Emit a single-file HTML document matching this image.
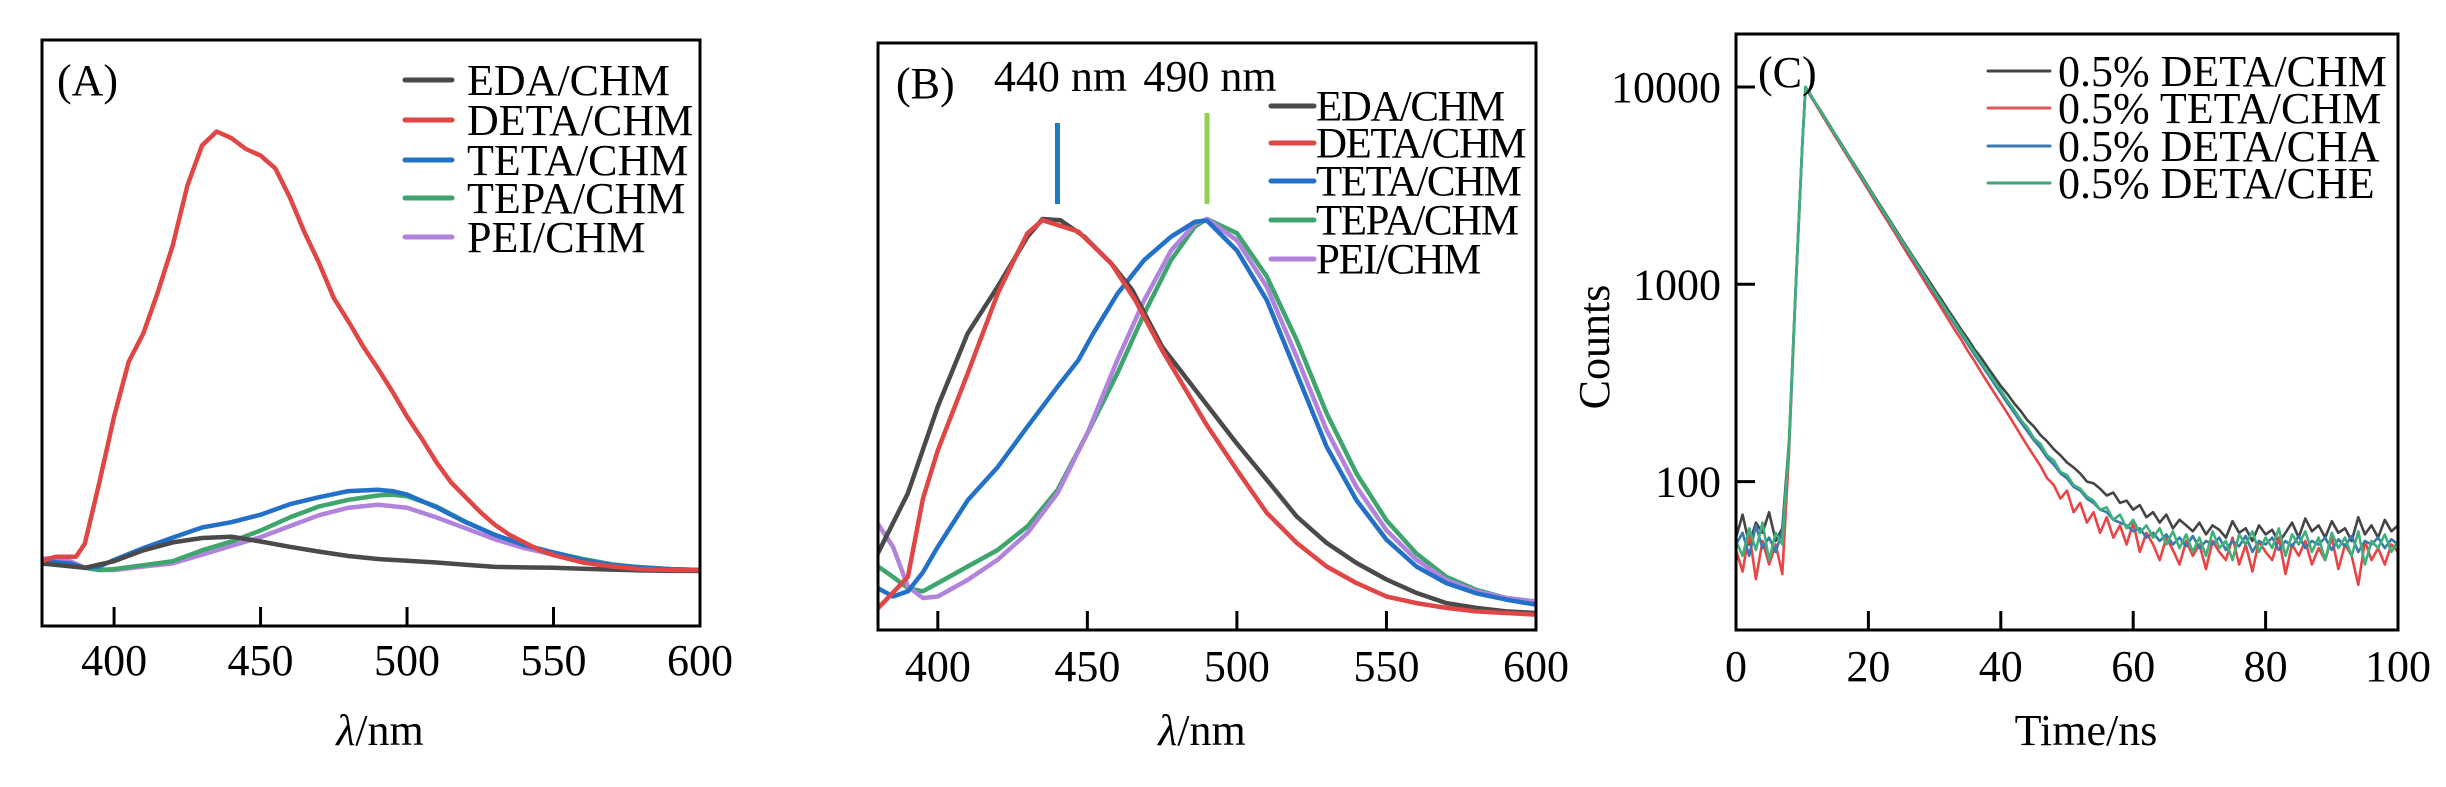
<!DOCTYPE html>
<html><head><meta charset="utf-8"><style>
html,body{margin:0;padding:0;background:#fff;}
svg{display:block;font-family:"Liberation Serif","Times New Roman",serif;}
</style></head><body>
<svg id="fig" width="2446" height="787" viewBox="0 0 2446 787" xmlns="http://www.w3.org/2000/svg"></svg>
<script>
// ---------- Panel A data ----------
const aEdaX=[375,390,400,410,420,430,440,450,460,470,480,490,500,510,520,530,540,550,560,570,580,590,600];
const aEdaY=[1.5,0.5,2,4.5,6.3,7.3,7.6,6.5,5.3,4.2,3.2,2.5,2.1,1.7,1.2,0.7,0.6,0.5,0.3,0.1,-0.1,-0.2,-0.2];
const aDetaX=[375,380,387,390,395,400,405,410,415,420,425,430,435,440,445,450,455,460,465,470,475,480,485,490,495,500,505,510,515,520,525,530,535,540,545,550,560,570,580,590,600];
const aDetaY=[2,3,3,6,20,35,47.5,54,63.5,74,87.6,96.8,100,98.5,96,94.5,91.6,85,77,70,62,56.7,51,46,40.7,35,30,24.6,20,16.6,13.2,10.3,8,6.3,4.6,3.4,1.7,0.8,0.2,0,0];
const aTetaX=[375,385,390,395,400,410,420,430,440,450,460,470,480,490,495,500,510,520,530,540,550,560,570,580,590,600];
const aTetaY=[2,1.5,0.5,0.8,2.3,5,7.4,9.7,10.9,12.6,15,16.6,18,18.3,18,17.2,14.3,10.9,8,5.7,4,2.3,1.1,0.6,0.2,0];
const aTepaX=[375,385,395,400,410,420,430,440,450,460,470,480,490,495,500,510,520,530,540,550,560,570,580,590,600];
const aTepaY=[2,1,0,0.2,1.1,2,4.5,6.5,9,12,14.5,16,17,17.2,16.8,14.5,11,8,5.7,4,2.5,1.3,0.6,0.2,0];
const aPeiX=[375,380,385,390,395,400,410,420,430,440,450,460,470,480,490,500,510,520,530,540,550,560,570,580,590,600];
const aPeiY=[2.5,2.8,2,0.5,0,0,0.8,1.5,3.5,5.5,7.5,10,12.5,14.2,14.9,14.2,12,9.5,7,5,3.5,2.2,1.2,0.5,0.2,0];
const aTicks=[400,450,500,550,600];

// ---------- Panel B data ----------
const bEdaX=[380,390,400,410,420,430,435,441,449,458,465,475,490,500,510,520,530,540,550,560,570,580,590,600];
const bEdaY=[15.2,30.4,52.4,71,82.8,95.5,100,99.7,95.5,88.7,82,67.6,52.8,43,33.8,24.5,17.8,12.7,8.5,5.1,2.5,1.3,0.4,0];
const bDetaX=[380,390,395,400,410,420,426,430,435,447,458,466,475,490,500,510,520,530,540,550,560,570,580,590,600];
const bDetaY=[1.2,9.2,29,41.3,60.8,81,90.4,96.4,99.7,96.8,88.7,79.4,66.7,47.6,36.3,25.4,17.8,11.8,7.6,4.2,2.5,1.3,0.4,0,-0.4];
const bTetaX=[380,385,390,395,400,410,420,430,440,447,452,460,469,478,486,490,500,510,520,530,540,550,560,570,580,590,600];
const bTetaY=[6.3,4.2,5.5,10.3,16.8,28.6,37,47.3,57.4,64.2,71,81,89.6,95.5,99.3,99.6,92,79.4,60.8,42.2,28.6,18.6,11.8,7.6,5,3.4,2.1];
const bTepaX=[380,385,390,395,400,410,420,430,440,450,460,469,478,486,490,500,510,520,530,540,550,560,570,580,590,600];
const bTepaY=[11.8,9.2,6.3,5.5,7.6,11.8,16,22,31.2,45.6,60.8,76,89.6,98.1,100,96.4,85.4,69.3,50.7,35.4,23.5,15.1,9.2,5.9,3.8,2.9];
const bPeiX=[380,385,390,395,400,410,420,430,440,450,460,469,478,486,490,500,510,520,530,540,550,560,570,580,590,600];
const bPeiY=[22.6,16.8,6.7,3.8,4.2,8.4,13.5,20.3,30.4,45.6,64.2,79.4,92,98.8,100,94.6,82.8,65,46.4,32,21,13.5,8.4,5.5,3.8,2.9];
const bPeakMarks=[440,490];
const bTicks=[400,450,500,550,600];

// ---------- Panel C data ----------
const cTime=[0,1,2,3,4,5,6,7,8,9,10,10.5,11,12,13,14,15,16,17,18,19,20,21,22,23,24,25,26,27,28,29,30,31,32,33,34,35,36,37,38,39,40,41,42,43,44,45,46,47,48,49,50,51,52,53,54,55,56,57,58,59,60,61,62,63,64,65,66,67,68,69,70,71,72,73,74,75,76,77,78,79,80,81,82,83,84,85,86,87,88,89,90,91,92,93,94,95,96,97,98,99,100];
const cDetaChm=[52,68,48,62,55,70,50,58,160,950,5000,10000,9450,8350,7380,6520,5760,5100,4500,3990,3530,3120,2760,2450,2170,1920,1700,1510,1340,1190,1060,940,840,745,665,590,530,470,425,380,340,305,278,250,228,205,190,172,160,146,136,125,118,110,100,98,92,85,88,78,80,72,76,66,70,62,68,58,64,60,56,62,54,60,57,52,63,55,58,50,60,54,57,49,55,62,52,65,56,60,52,63,55,58,50,66,54,60,52,64,56,60];
const cTetaChm=[45,35,55,32,50,38,48,34,140,900,4900,10000,9300,8200,7200,6350,5600,4950,4370,3850,3400,3000,2640,2330,2060,1820,1600,1410,1250,1100,970,860,760,670,590,525,460,410,360,318,282,250,222,196,172,152,135,120,104,96,82,90,70,78,62,70,55,66,52,60,48,62,44,55,48,40,52,45,38,50,42,48,36,50,44,40,52,38,48,35,50,44,40,52,34,48,42,50,38,46,40,52,36,48,42,30,50,40,46,38,48,44];
const cDetaCha=[48,55,42,60,46,52,44,56,150,920,4950,10000,9380,8280,7300,6450,5700,5030,4450,3930,3470,3070,2710,2400,2120,1875,1660,1470,1300,1150,1015,900,800,710,630,560,498,442,395,352,314,280,250,224,200,180,162,148,132,122,110,104,94,90,82,78,72,70,64,62,60,56,58,52,55,50,54,48,52,47,53,46,50,48,52,45,50,47,53,44,50,48,52,45,50,47,53,46,50,48,52,45,51,47,53,44,50,48,52,46,51,48];
const cDetaChe=[50,42,58,45,62,40,55,48,155,940,5050,10000,9420,8320,7350,6490,5730,5060,4470,3950,3490,3090,2730,2420,2140,1890,1680,1490,1320,1170,1030,915,815,720,645,572,510,455,405,362,322,290,258,232,206,188,166,155,136,128,112,108,96,92,84,80,72,74,64,68,58,64,55,60,52,58,48,56,46,54,44,52,42,56,46,50,40,54,48,56,44,52,46,58,42,54,48,56,44,52,40,55,46,52,42,56,38,50,46,54,44,50];
const cXTicks=[0,20,40,60,80,100];
const cYTicks=[100,1000,10000];
const cYTickLabels=["100","1000","10000"];

// ---------- drawing ----------
const NS="http://www.w3.org/2000/svg";
const svg=document.getElementById('fig');
function mk(tag,attrs,parent){const e=document.createElementNS(NS,tag);for(const k in attrs)e.setAttribute(k,attrs[k]);(parent||svg).appendChild(e);return e;}
function txt(str,attrs,parent){const t=mk('text',attrs,parent);t.textContent=str;return t;}
function linScale(d0,d1,r0,r1){return v=>r0+(v-d0)/(d1-d0)*(r1-r0);}
function logScale(d0,d1,r0,r1){return v=>r0+(Math.log10(v)-Math.log10(d0))/(Math.log10(d1)-Math.log10(d0))*(r1-r0);}
function pathD(xs,ys,sx,sy){return xs.map((x,i)=>(i?'L':'M')+sx(x).toFixed(1)+' '+sy(ys[i]).toFixed(1)).join(' ');}

function frame(g,l,t,r,b){
  const f=mk('rect',{x:l,y:t,width:r-l,height:b-t,fill:'none',stroke:'#000','stroke-width':3},g);
  
  
}
function xTicks(g,ticks,sx,b,labY){
  ticks.forEach(v=>{
    const tk=mk('line',{x1:sx(v),x2:sx(v),y1:b,y2:b-19,stroke:'#000','stroke-width':3},g);
    
    
    const lb=txt(String(v),{x:sx(v),y:labY,'font-size':44,'text-anchor':'middle'},g);
    
    
  });
}
function series(g,xs,ys,sx,sy,color,w,name){
  const p=mk('path',{d:pathD(xs,ys,sx,sy),fill:'none',stroke:color,'stroke-width':w,'stroke-linejoin':'round','stroke-linecap':'round'},g);
  
  
}
function legend(g,items,x1,x2,tx,ys,fs,lw,name,ls){
  items.forEach((it,i)=>{
    const gi=mk('g',{},g);
    
    
    mk('line',{x1:x1,x2:x2,y1:ys[i],y2:ys[i],stroke:it[1],'stroke-width':lw,'stroke-linecap':'round'},gi);
    txt(it[0],{x:tx,y:ys[i]+fs*0.34,'font-size':fs,'letter-spacing':ls||0},gi);
  });
}

// Panel A
(function(){
  const g=mk('g',{});
  
  
  const L=42,T=40,R=700,B=626;
  const sx=linScale(375.4,600,L,R), sy=linScale(0,100,570,131.5);
  const cp=mk('clipPath',{id:'clipA'},g); mk('rect',{x:L,y:T,width:R-L,height:B-T},cp);
  const sg=mk('g',{'clip-path':'url(#clipA)'},g);
  series(sg,aPeiX,aPeiY,sx,sy,'#b283dc',4.5,'pei-chm-line');
  series(sg,aTepaX,aTepaY,sx,sy,'#3ea56c',4.5,'tepa-chm-line');
  series(sg,aTetaX,aTetaY,sx,sy,'#2270c8',4.5,'teta-chm-line');
  series(sg,aEdaX,aEdaY,sx,sy,'#4a4a4a',4.5,'eda-chm-line');
  series(sg,aDetaX,aDetaY,sx,sy,'#e04646',4.5,'deta-chm-line');
  frame(g,L,T,R,B);
  xTicks(g,aTicks.slice(0,4),sx,B,675);
  const l6=txt('600',{x:sx(600),y:675,'font-size':44,'text-anchor':'middle'},g);
  
  
  const pl=txt('(A)',{x:57,y:95,'font-size':44},g);
  
  
  const xl=mk('text',{x:380,y:745,'font-size':44,'text-anchor':'middle'},g);
  xl.innerHTML='<tspan font-style="italic">λ</tspan>/nm';
  
  
  const lg=mk('g',{},g);
  
  
  legend(lg,[['EDA/CHM','#4a4a4a'],['DETA/CHM','#e04646'],['TETA/CHM','#2270c8'],['TEPA/CHM','#3ea56c'],['PEI/CHM','#b283dc']],405,452,467,[80,120,160,198,237],44,5,'legend-entry');
})();

// Panel B
(function(){
  const g=mk('g',{});
  
  
  const L=878,T=43,R=1536,B=630;
  const sx=linScale(380,600,L,R), sy=linScale(0,100,613,219);
  const cp=mk('clipPath',{id:'clipB'},g); mk('rect',{x:L,y:T,width:R-L,height:B-T},cp);
  const sg=mk('g',{'clip-path':'url(#clipB)'},g);
  series(sg,bTepaX,bTepaY,sx,sy,'#3ea56c',4.5,'tepa-chm-line');
  series(sg,bPeiX,bPeiY,sx,sy,'#b283dc',4.5,'pei-chm-line');
  series(sg,bTetaX,bTetaY,sx,sy,'#2270c8',4.5,'teta-chm-line');
  series(sg,bEdaX,bEdaY,sx,sy,'#4a4a4a',4.5,'eda-chm-line');
  series(sg,bDetaX,bDetaY,sx,sy,'#e04646',4.5,'deta-chm-line');
  frame(g,L,T,R,B);
  xTicks(g,bTicks,sx,B,681);
  const pl=txt('(B)',{x:896,y:98,'font-size':44},g);
  
  
  const markCol=['#1a7cc0','#8fd150'];
  const markTop=[123,113];
  bPeakMarks.forEach((v,i)=>{
    const m=mk('rect',{x:sx(v)-2.5,y:markTop[i],width:5,height:204-markTop[i],fill:markCol[i]},g);
    
    
    const t=txt(v+' nm',{x:sx(v)+3,y:91,'font-size':44,'text-anchor':'middle'},g);
    
    
  });
  const xl=mk('text',{x:1202,y:745,'font-size':44,'text-anchor':'middle'},g);
  xl.innerHTML='<tspan font-style="italic">λ</tspan>/nm';
  
  
  const lg=mk('g',{},g);
  
  
  legend(lg,[['EDA/CHM','#4a4a4a'],['DETA/CHM','#e04646'],['TETA/CHM','#2270c8'],['TEPA/CHM','#3ea56c'],['PEI/CHM','#b283dc']],1271,1314,1316,[106,143,181,220,259],43,5,'legend-entry',-1.5);
})();

// Panel C
(function(){
  const g=mk('g',{});
  
  
  const L=1736,T=34,R=2398,B=630;
  const sx=linScale(0,100,L,R), sy=logScale(100,10000,481.6,87);
  const cp=mk('clipPath',{id:'clipC'},g); mk('rect',{x:L,y:T,width:R-L,height:B-T},cp);
  const sg=mk('g',{'clip-path':'url(#clipC)'},g);
  series(sg,cTime,cDetaChm,sx,sy,'#454545',2.6,'deta-chm-decay');
  series(sg,cTime,cTetaChm,sx,sy,'#e84646',2.6,'teta-chm-decay');
  series(sg,cTime,cDetaCha,sx,sy,'#3a78b0',2.6,'deta-cha-decay');
  series(sg,cTime,cDetaChe,sx,sy,'#3fb07a',2.6,'deta-che-decay');
  frame(g,L,T,R,B);
  xTicks(g,cXTicks,sx,B,681);
  cYTicks.forEach((v,i)=>{
    const tk=mk('line',{x1:L,x2:L+19,y1:sy(v),y2:sy(v),stroke:'#000','stroke-width':3},g);
    
    
    const lb=txt(cYTickLabels[i],{x:1721,y:sy(v)+15,'font-size':44,'text-anchor':'end'},g);
    
    
  });
  const pl=txt('(C)',{x:1758,y:87,'font-size':44},g);
  
  
  const xl=txt('Time/ns',{x:2086,y:745,'font-size':44,'text-anchor':'middle'},g);
  
  
  const yl=txt('Counts',{x:0,y:0,'font-size':44,'text-anchor':'middle',transform:'translate(1609,347) rotate(-90)'},g);
  
  
  const lg=mk('g',{},g);
  
  
  legend(lg,[['0.5% DETA/CHM','#454545'],['0.5% TETA/CHM','#e05a5a'],['0.5% DETA/CHA','#3a78b0'],['0.5% DETA/CHE','#3fa57a']],1988,2050,2058,[71,108,146,183],44,3,'legend-entry');
})();
</script>
</body></html>
